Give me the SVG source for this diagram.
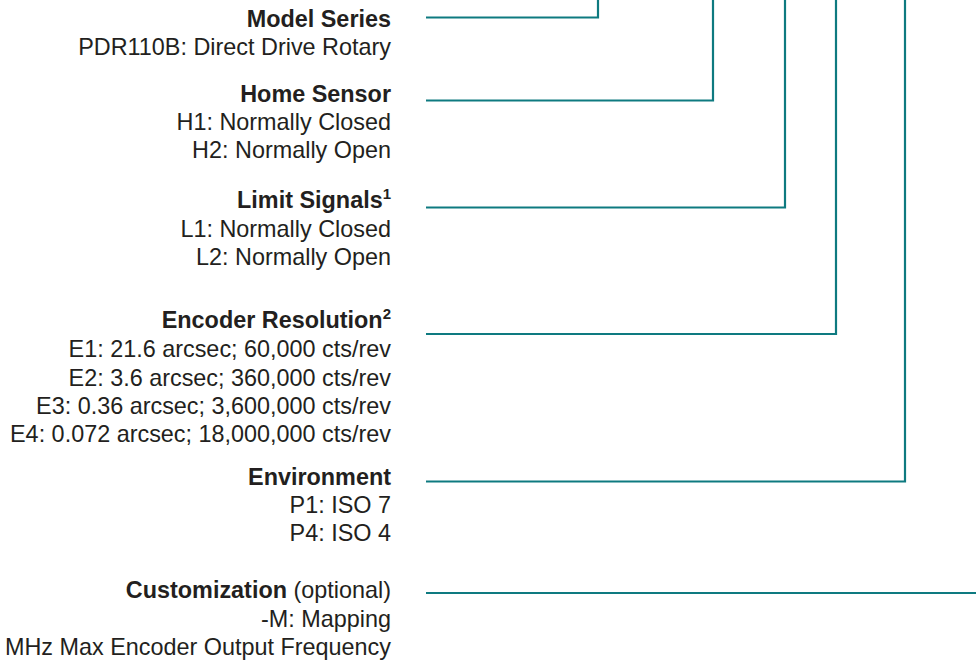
<svg xmlns="http://www.w3.org/2000/svg" width="976" height="660" viewBox="0 0 976 660">
<style>
text{font-family:"Liberation Sans",Arial,Helvetica,sans-serif;font-size:23.4px;fill:#231f20;text-anchor:end}
.b{font-weight:bold}
.sup{font-size:15px;font-weight:bold}
.c{fill:none;stroke:#0e7a80;stroke-width:2.2}
</style>
<rect width="976" height="660" fill="#fff"/>
<g id="connectors">
<polyline class="c" points="426,17.5 598,17.5 598,0"/>
<polyline class="c" points="426,100.5 713,100.5 713,0"/>
<polyline class="c" points="426,207.5 785,207.5 785,0"/>
<polyline class="c" points="426,334 836,334 836,0"/>
<polyline class="c" points="426,481.5 905,481.5 905,0"/>
<polyline class="c" points="426,593 976,593"/>
</g>
<g id="model-series">
<text x="391" y="26.5" class="b">Model Series</text>
<text x="391" y="55">PDR110B: Direct Drive Rotary</text>
</g>
<g id="home-sensor">
<text x="391" y="101.5" class="b">Home Sensor</text>
<text x="391" y="129.5">H1: Normally Closed</text>
<text x="391" y="157.5">H2: Normally Open</text>
</g>
<g id="limit-signals">
<text x="391" y="208" class="b">Limit Signals<tspan class="sup" dy="-9">1</tspan></text>
<text x="391" y="236.5">L1: Normally Closed</text>
<text x="391" y="264.5">L2: Normally Open</text>
</g>
<g id="encoder-resolution">
<text x="391" y="328" class="b">Encoder Resolution<tspan class="sup" dy="-9">2</tspan></text>
<text x="391" y="357">E1: 21.6 arcsec; 60,000 cts/rev</text>
<text x="391" y="385.5">E2: 3.6 arcsec; 360,000 cts/rev</text>
<text x="391" y="413.5">E3: 0.36 arcsec; 3,600,000 cts/rev</text>
<text x="391" y="441.5">E4: 0.072 arcsec; 18,000,000 cts/rev</text>
</g>
<g id="environment">
<text x="391" y="484.5" class="b">Environment</text>
<text x="391" y="512.5">P1: ISO 7</text>
<text x="391" y="540.5">P4: ISO 4</text>
</g>
<g id="customization">
<text x="391" y="598"><tspan class="b">Customization</tspan> (optional)</text>
<text x="391" y="626.5">-M: Mapping</text>
<text x="391" y="654.5">MHz Max Encoder Output Frequency</text>
</g>
</svg>
